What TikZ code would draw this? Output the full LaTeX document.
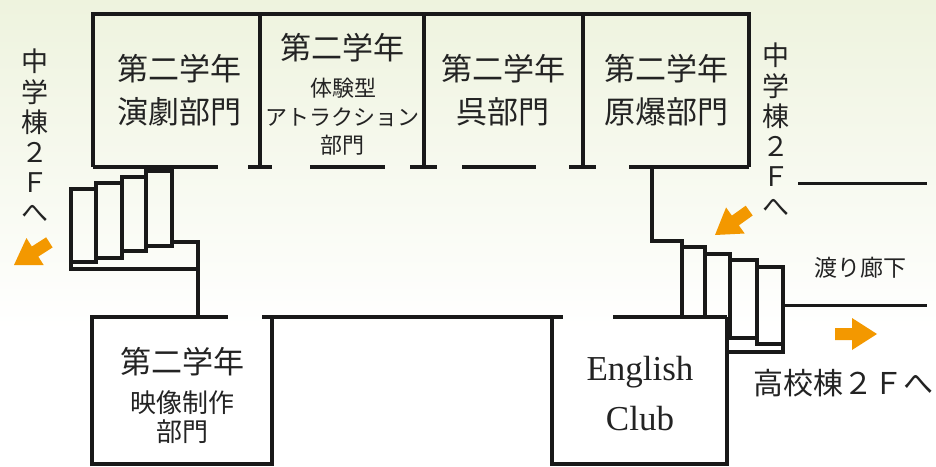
\documentclass[tikz,border=0pt]{standalone}
\usepackage{fontspec}
\newfontfamily\jp{Noto Sans CJK JP}
\newfontfamily\enserif{Liberation Serif}
\definecolor{bgtop}{RGB}{238,243,222}
\definecolor{arrowc}{RGB}{243,152,0}
\definecolor{wallc}{RGB}{25,25,25}
\definecolor{txtc}{RGB}{35,35,35}
\tikzset{
  wall/.style={draw=wallc, line width=3.2pt, line join=miter},
  thinwall/.style={draw=wallc, line width=3pt},
  jbig/.style={text=txtc, inner sep=0pt, font=\jp\fontsize{31}{31}\selectfont},
  jmid/.style={text=txtc, inner sep=0pt, font=\jp\fontsize{26}{26}\selectfont},
  jsmall/.style={text=txtc, inner sep=0pt, font=\jp\fontsize{22}{22}\selectfont},
  jvert/.style={text=txtc, inner sep=0pt, align=center, font=\jp\fontsize{27}{30.2}\selectfont},
  entext/.style={text=txtc, inner sep=0pt, anchor=base, font=\enserif\fontsize{35}{35}\selectfont},
  blockarrow/.pic={\fill[arrowc] (0,0) -- (-25,-16) -- (-25,-6) -- (-42,-6) -- (-42,6) -- (-25,6) -- (-25,16) -- cycle;}
}
\begin{document}
\begin{tikzpicture}[x=1pt,y=-1pt]
\useasboundingbox (0,0) rectangle (936,466);
% background
\shade[top color=bgtop, bottom color=white] (0,0) rectangle (936,330);
\fill[white] (0,330) rectangle (936,466);

% top rooms
\draw[wall] (93,167) -- (93,14) -- (749,14) -- (749,167);
\draw[wall] (260,14) -- (260,167);
\draw[wall] (424,14) -- (424,167);
\draw[wall] (583,14) -- (583,167);
\draw[wall] (93,167) -- (218,167);
\draw[wall] (248,167) -- (272,167);
\draw[wall] (310,167) -- (385,167);
\draw[wall] (410,167) -- (437,167);
\draw[wall] (462,167) -- (536,167);
\draw[wall] (569,167) -- (596,167);
\draw[wall] (629,167) -- (749,167);

% left stairs
\draw[wall] (146,171) rectangle (172,246);
\draw[wall] (122,177) rectangle (146,251);
\draw[wall] (96,183) rectangle (122,258);
\draw[wall] (71,189) rectangle (96,262);
\draw[wall] (71,262) -- (71,269) -- (198,269);
\draw[wall] (172,242) -- (198,242) -- (198,317);

% lower left room
\draw[wall] (92,466) -- (92,317) -- (228,317);
\draw[wall] (262,317) -- (563,317);
\draw[wall] (272,317) -- (272,466);
\draw[wall] (92,464) -- (272,464);

% English club
\draw[wall] (613,317) -- (727,317);
\draw[wall] (552,317) -- (552,466);
\draw[wall] (727,317) -- (727,466);
\draw[wall] (552,464) -- (727,464);

% right stairs
\draw[wall] (652,167) -- (652,241) -- (682,241) -- (682,317);
\draw[wall] (682,247) -- (705,247) -- (705,317);
\draw[wall] (705,254) -- (730,254) -- (730,338) -- (757,338);
\draw[wall] (730,260) -- (757,260) -- (757,344) -- (783,344);
\draw[wall] (757,267) -- (783,267) -- (783,352) -- (727,352);

% walkway
\draw[thinwall] (783,305) -- (927,305);
\draw[thinwall] (798,183) -- (927,183);

% arrows
\pic[rotate=212.6] at (14,265) {blockarrow};
\pic[rotate=215.5] at (715,235) {blockarrow};
\pic at (877,334) {blockarrow};

% room labels
\node[jbig] (r1a) at (179,69) {第二学年};
\node[jbig] (r1b) at (179,112) {演劇部門};
\node[jbig] (r2a) at (342,48) {第二学年};
\node[jsmall] (r2b) at (343,88) {体験型};
\node[jsmall] (r2c) at (342,117) {アトラクション};
\node[jsmall] (r2d) at (342,145) {部門};
\node[jbig] (r3a) at (503,69) {第二学年};
\node[jbig] (r3b) at (503,112) {呉部門};
\node[jbig] (r4a) at (666,69) {第二学年};
\node[jbig] (r4b) at (666,112) {原爆部門};
\node[jbig] (r5a) at (182,362) {第二学年};
\node[jmid] (r5b) at (182,403) {映像制作};
\node[jmid] (r5c) at (182,432) {部門};
\node[entext] (eng1) at (640,380) {English};
\node[entext] (eng2) at (640,430) {Club};

% other labels
\node[jvert] (lv) at (35,136) {中\\学\\棟\\２\\Ｆ\\へ};
\node[jvert] (rv) at (776,130) {中\\学\\棟\\２\\Ｆ\\へ};
\node[text=txtc, inner sep=0pt, font=\jp\fontsize{23}{23}\selectfont] (wt) at (860,268) {渡り廊下};
\node[text=txtc, inner sep=0pt, font=\jp\fontsize{30}{30}\selectfont] (hs) at (843,383) {高校棟２Ｆへ};
\end{tikzpicture}
\end{document}
